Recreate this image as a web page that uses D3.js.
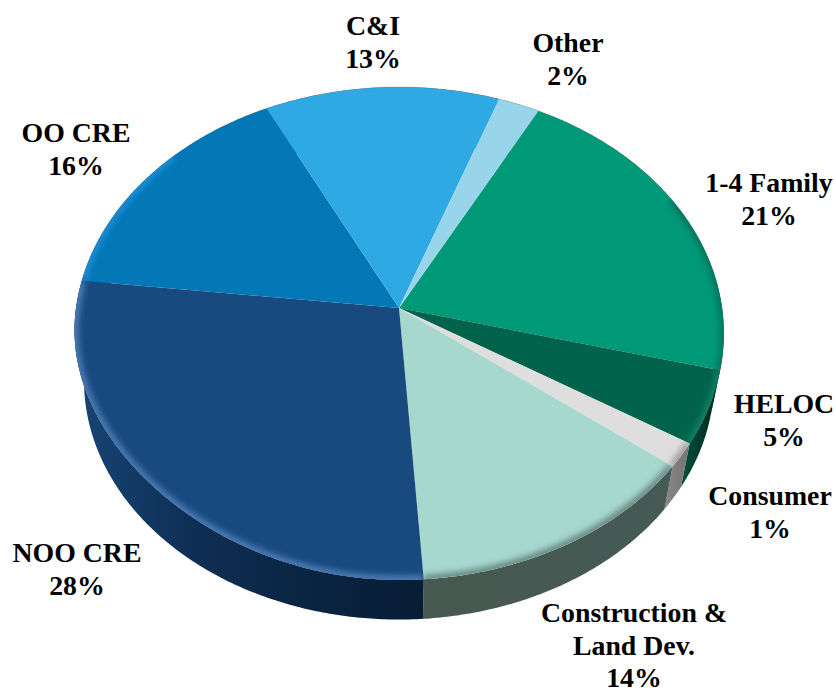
<!DOCTYPE html>
<meta charset="utf-8">
<title>Loan mix</title>
<style>

body {
  margin: 0px;
  background: #fff;
}

text {
  font-family: "Liberation Serif", serif;
  font-weight: bold;
  font-size: 27.8px;
  fill: #000;
  text-anchor: middle;
}

</style>

<script src="https://d3js.org/d3.v7.min.js"></script>

<body>

<script>

var width = 836, height = 688;

// slices, clockwise from the 1-4 Family edge
var categories = ["1-4 Family", "HELOC", "Consumer", "Construction", "NOO CRE", "OO CRE", "C&I", "Other"];
var shares = [21.2, 4.8, 1.6, 13.5, 27.9, 15.8, 12.9, 2.3];   // measured off the wedges
var labelLines = [["1-4 Family", "21%"], ["HELOC", "5%"], ["Consumer", "1%"], ["Construction &", "Land Dev.", "14%"],
                  ["NOO CRE", "28%"], ["OO CRE", "16%"], ["C&I", "13%"], ["Other", "2%"]];
var labelX = [769, 784, 770, 634, 77, 76, 373, 568];
var labelY = [192, 413, 505, 622, 562, 142, 35, 52];

var topColor = d3.scaleOrdinal().domain(categories)
    .range(["#009978", "#02634d", "#dedede", "#a6d8ce", "#18497f", "#0477b6", "#2ea9e3", "#98d4ea"]);
var rimColor = d3.scaleOrdinal().domain(categories)
    .range(["#06735c", "#0b7f64", "#9a9a9a", "#64827c", "#5080b8", "#1a8ed8", "none", "none"]);
var wallStops = d3.scaleOrdinal().domain(categories)
    .range([["#02705a", "#003f30"], ["#01503d", "#00261c"], ["#8c8888", "#747272"], ["#46584f", "#465a56"],
            ["#174576", "#0e2f54", "#0a2442", "#081d35"], ["#0a4f80", "#0a4f80"], ["#1d6f9c", "#1d6f9c"], ["#6b98a8", "#6b98a8"]]);

// perspective disc: a circle seen at a tilt, hub sits above the middle of the ellipse
var hubX = 399, hubY = 308;
var tilt = -0.1035, scaleX = 323, scaleY = 243.8;
var midY = 333, shrink = 0.97, drop = 47;

var deg = Math.PI / 180;

function project(a, level) {
  var u = Math.sin(a), v = -Math.cos(a), w = 1 + tilt * v;
  var x = hubX + scaleX * u / w,
      y = hubY + scaleY * v / w;
  if (level) {
    x = hubX + (x - hubX) * shrink;
    y = midY + (y - midY) * shrink + drop;
  } else {
    // the top face pulls in a little at the lower left
    var t = ((a % (2 * Math.PI)) - Math.PI) * 2;
    if (t > 0 && t < Math.PI) {
      var r = 1 - 0.02 * Math.pow(Math.sin(t), 2);
      x = hubX + (x - hubX) * r;
      y = hubY + (y - hubY) * r;
    }
  }
  return [x, y];
}

function sweep(d) {
  var n = Math.max(2, Math.ceil((d.endAngle - d.startAngle) / 0.01));
  return d3.range(n + 1).map(function(i) {
    return d.startAngle + (d.endAngle - d.startAngle) * i / n;
  });
}

var start = 28.1 * deg;
var pie = d3.pie().sort(null).startAngle(start).endAngle(start + 2 * Math.PI);
var slices = pie(shares).map(function(d, i) { d.name = categories[i]; return d; });
var line = d3.line();

var svg = d3.select("body").append("svg")
    .attr("width", width)
    .attr("height", height);

var defs = svg.append("defs");

defs.append("filter").attr("id", "soft")
    .attr("filterUnits", "userSpaceOnUse")
    .attr("x", 0).attr("y", 0).attr("width", width).attr("height", height)
  .append("feGaussianBlur").attr("stdDeviation", 3);

slices.forEach(function(d, i) {
  var stops = wallStops(d.name);
  var grad = defs.append("linearGradient").attr("id", "wall" + i);
  stops.forEach(function(c, j) {
    grad.append("stop").attr("offset", j / (stops.length - 1)).attr("stop-color", c);
  });
});

function rimPoints(d) {
  return sweep(d).map(function(a) { return project(a, 0); });
}

function facePath(d) {
  return line([[hubX, hubY]].concat(rimPoints(d))) + "Z";
}

function wallPath(d) {
  var upper = sweep(d).map(function(a) { return project(a, 0); });
  var lower = sweep(d).reverse().map(function(a) { return project(a, 1); });
  return line(upper.concat(lower)) + "Z";
}

// side wall first, the top face covers what is hidden
svg.append("g").selectAll("path")
    .data(slices)
  .enter().append("path")
    .attr("d", wallPath)
    .attr("fill", function(d, i) { return "url(#wall" + i + ")"; });

svg.append("g").selectAll("path")
    .data(slices)
  .enter().append("path")
    .attr("d", facePath)
    .attr("fill", function(d) { return topColor(d.name); });

// thin grey edge on the far side of the disc
svg.append("g").selectAll("path")
    .data(slices)
  .enter().append("path")
    .attr("d", function(d) { return line(rimPoints(d)); })
    .attr("fill", "none")
    .attr("stroke", "#777")
    .attr("stroke-opacity", function(d) { return d.endAngle < 110 * deg || d.startAngle > 270 * deg ? 0.4 : 0; })
    .attr("stroke-width", 0.7);

// soft bevel along the near rim, clipped to each wedge
slices.forEach(function(d, i) {
  defs.append("clipPath").attr("id", "face" + i)
    .append("path").attr("d", facePath(d));
});

function nearRim(d) {
  var angles = sweep(d).filter(function(a) { return a > 62 * deg && a < 312 * deg; });
  return line(angles.map(function(a) { return project(a, 0); }));
}

svg.append("g").selectAll("g")
    .data(slices.filter(function(d) { return rimColor(d.name) != "none"; }))
  .enter().append("g")
    .attr("clip-path", function(d) { return "url(#face" + slices.indexOf(d) + ")"; })
  .append("path")
    .attr("d", nearRim)
    .attr("fill", "none")
    .attr("stroke", function(d) { return rimColor(d.name); })
    .attr("stroke-width", 8)
    .attr("filter", "url(#soft)");

var labels = svg.append("g").selectAll("text")
    .data(labelLines)
  .enter().append("text")
    .attr("x", function(d, i) { return labelX[i]; })
    .attr("y", function(d, i) { return labelY[i]; });

labels.selectAll("tspan")
    .data(function(d, i) { return d.map(function(t) { return {t: t, x: labelX[i]}; }); })
  .enter().append("tspan")
    .attr("x", function(d) { return d.x; })
    .attr("dy", function(d, j) { return j ? 32.5 : 0; })
    .text(function(d) { return d.t; });

</script>
